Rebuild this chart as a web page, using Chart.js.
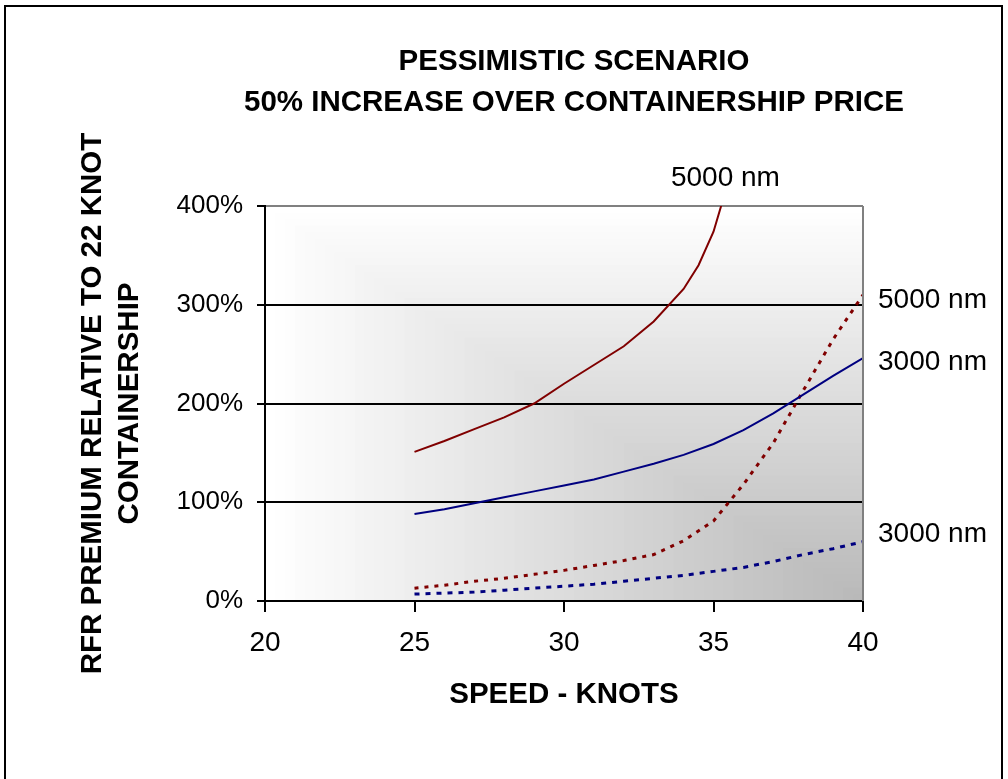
<!DOCTYPE html>
<html>
<head>
<meta charset="utf-8">
<script src="https://cdn.jsdelivr.net/npm/chart.js@4.4.1/dist/chart.umd.min.js"></script>
<style>
  html, body { margin: 0; padding: 0; background: #fff; }
  canvas { display: block; }
</style>
</head>
<body>
<canvas id="chart" width="1008" height="779"></canvas>
<script>
// Speeds (knots) at which the required freight rate premium was evaluated
const speedKnots = [25, 26, 27, 28, 29, 30, 31, 32, 33, 34, 35, 36, 37, 38, 39, 40];
const speedKnots5000Solid = [25, 26, 27, 28, 29, 30, 31, 32, 33, 34, 34.5, 35, 35.5];

// RFR premium relative to a 22 knot containership (%)
const premium5000Solid = [151, 162, 174, 186, 200, 220, 239, 258, 283, 316, 340, 374, 425];
const premium3000Solid = [88, 93, 99, 105, 111, 117, 123, 131, 139, 148, 159, 173, 190, 209, 228, 246];
const premium5000Dotted = [13, 16, 20, 23, 27, 31, 36, 41, 47, 61, 81, 118, 160, 213, 265, 310];
const premium3000Dotted = [7, 8, 9, 11, 13, 15, 17, 20, 23, 26, 30, 34, 40, 47, 53, 60];

// Axis ticks and texts
const xTickValues = [20, 25, 30, 35, 40];
const yTickValues = [0, 100, 200, 300, 400];
const titleLines = ['PESSIMISTIC SCENARIO', '50% INCREASE OVER CONTAINERSHIP PRICE'];
const yAxisTitle = ['RFR PREMIUM RELATIVE TO 22 KNOT', 'CONTAINERSHIP'];
const xAxisTitle = 'SPEED - KNOTS';
const seriesNames = ['5000 nm', '3000 nm', '5000 nm', '3000 nm'];

const FONT = '"Liberation Sans", Arial, sans-serif';
const RED = '#800000';
const BLUE = '#000080';

function toPoints(xs, ys) {
  return ys.map((y, i) => ({ x: xs[i], y: y }));
}

// Plot area fill: grey deepens towards the lower right corner
const plotBackground = {
  id: 'plotBackground',
  beforeDraw(chart) {
    const { ctx, chartArea: a } = chart;
    ctx.save();
    ctx.fillStyle = '#fff';
    ctx.fillRect(0, 0, chart.width, chart.height);
    const w = a.right - a.left, h = a.bottom - a.top;
    const steps = 60;
    for (let i = 0; i <= steps; i++) {
      const c = i / steps;
      const g = Math.round(255 - 71 * c);
      ctx.fillStyle = `rgb(${g},${g},${g})`;
      ctx.fillRect(a.left + c * w, a.top + c * h, w * (1 - c), h * (1 - c));
    }
    ctx.restore();
  }
};

// Frame, chart title and series labels
const decorations = {
  id: 'decorations',
  afterDraw(chart) {
    const { ctx, chartArea: a, scales } = chart;
    const x = scales.x, y = scales.y;
    ctx.save();
    // right edge of the plot area
    ctx.strokeStyle = '#808080';
    ctx.lineWidth = 2;
    ctx.beginPath();
    ctx.moveTo(a.right, a.top);
    ctx.lineTo(a.right, a.bottom);
    ctx.stroke();
    // outer frame
    ctx.strokeStyle = '#000';
    ctx.lineWidth = 2;
    ctx.beginPath();
    ctx.moveTo(5, chart.height);
    ctx.lineTo(5, 6);
    ctx.lineTo(1002, 6);
    ctx.lineTo(1002, chart.height);
    ctx.stroke();
    // title
    ctx.fillStyle = '#000';
    ctx.textAlign = 'center';
    ctx.textBaseline = 'middle';
    ctx.font = `bold 29.5px ${FONT}`;
    ctx.fillText(titleLines[0], 574, 62);
    ctx.fillText(titleLines[1], 574, 103);
    // series labels
    ctx.font = `28px ${FONT}`;
    ctx.fillText(seriesNames[0], x.getPixelForValue(35.4), a.top - 28);
    ctx.textAlign = 'left';
    const lx = a.right + 15;
    ctx.fillText(seriesNames[2], lx, y.getPixelForValue(premium5000Dotted[premium5000Dotted.length - 1]) + 5);
    ctx.fillText(seriesNames[1], lx, y.getPixelForValue(premium3000Solid[premium3000Solid.length - 1]) + 4);
    ctx.fillText(seriesNames[3], lx, y.getPixelForValue(premium3000Dotted[premium3000Dotted.length - 1]) - 7);
    ctx.restore();
  }
};

new Chart(document.getElementById('chart'), {
  type: 'line',
  data: {
    datasets: [
      { label: seriesNames[0], data: toPoints(speedKnots5000Solid, premium5000Solid),
        borderColor: RED, borderWidth: 2 },
      { label: seriesNames[1], data: toPoints(speedKnots, premium3000Solid),
        borderColor: BLUE, borderWidth: 2 },
      { label: seriesNames[2], data: toPoints(speedKnots, premium5000Dotted),
        borderColor: RED, borderWidth: 3, borderDash: [4, 6] },
      { label: seriesNames[3], data: toPoints(speedKnots, premium3000Dotted),
        borderColor: BLUE, borderWidth: 3, borderDash: [5, 6] }
    ]
  },
  options: {
    responsive: false,
    animation: false,
    devicePixelRatio: 1,
    layout: { padding: { top: 206, right: 145, bottom: 0, left: 0 } },
    elements: { point: { radius: 0 }, line: { tension: 0, fill: false } },
    plugins: { legend: { display: false }, tooltip: { enabled: false }, title: { display: false } },
    scales: {
      x: {
        type: 'linear',
        min: 20, max: 40,
        afterBuildTicks: s => { s.ticks = xTickValues.map(v => ({ value: v })); },
        afterFit: s => { s.height = 178; },
        grid: { drawOnChartArea: false, color: '#000', tickColor: '#000', tickLength: 11, lineWidth: 2 },
        border: { display: true, color: '#000', width: 2 },
        ticks: { color: '#000', padding: 14, font: { family: FONT, size: 28 }, maxRotation: 0 },
        title: { display: true, text: xAxisTitle, color: '#000',
                 font: { family: FONT, size: 29.5, weight: 'bold', lineHeight: 1.2 },
                 padding: { top: 0, bottom: 66 } }
      },
      y: {
        type: 'linear',
        min: 0, max: 400,
        afterBuildTicks: s => { s.ticks = yTickValues.map(v => ({ value: v })); },
        afterFit: s => { s.width = 265; },
        grid: { drawOnChartArea: true, lineWidth: 2, tickLength: 8, tickColor: '#000',
                color: c => (c.tick && c.tick.value === 400 ? '#808080' : '#000') },
        border: { display: true, color: '#000', width: 2 },
        ticks: { color: '#000', padding: 14, font: { family: FONT, size: 26 },
                 callback: v => v + '%' },
        title: { display: true, text: yAxisTitle, color: '#000',
                 font: { family: FONT, size: 29.5, weight: 'bold', lineHeight: 1.25 },
                 padding: { top: 74.6, bottom: 0 } }
      }
    }
  },
  plugins: [plotBackground, decorations]
});
</script>
</body>
</html>
